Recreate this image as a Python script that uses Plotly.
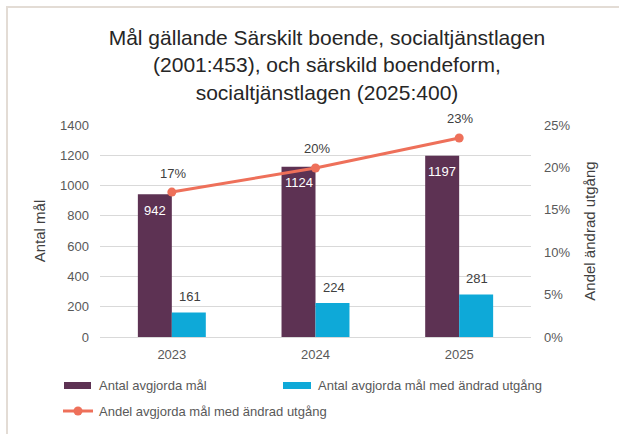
import plotly.graph_objects as go

years = ["2023", "2024", "2025"]
antal_mal = [942, 1124, 1197]
antal_andrad = [161, 224, 281]
andel_andrad = [0.1709, 0.1993, 0.2347]
andel_labels = ["17%", "20%", "23%"]

series_names = [
    "Antal avgjorda mål",
    "Antal avgjorda mål med ändrad utgång",
    "Andel avgjorda mål med ändrad utgång",
]

W, H = 619, 434
L, R, T, B = 100, 88, 125, 97
PW, PH = W - L - R, H - T - B

FONT = "Liberation Sans, Arial, sans-serif"
PURPLE = "#5D3253"
BLUE = "#0EA9D8"
CORAL = "#EE705A"
TXT = "#595959"
LBL = "#404040"

fig = go.Figure()
fig.add_trace(go.Bar(
    x=years, y=antal_mal, name=series_names[0],
    marker=dict(color=PURPLE, line=dict(width=0)),
))
fig.add_trace(go.Bar(
    x=years, y=antal_andrad, name=series_names[1],
    marker=dict(color=BLUE, line=dict(width=0)),
))
fig.add_trace(go.Scatter(
    x=years, y=andel_andrad, name=series_names[2],
    yaxis="y2", mode="lines+markers",
    line=dict(color=CORAL, width=3),
    marker=dict(color=CORAL, size=9),
    cliponaxis=False,
))


def px_x(p):
    return (p - L) / PW


def px_y(p):
    return (H - B - p) / PH


frame = "#E3DCD5"
shapes = [
    dict(type="line", xref="paper", yref="paper", x0=px_x(6), x1=px_x(W), y0=px_y(7), y1=px_y(7),
         line=dict(color=frame, width=2)),
    dict(type="line", xref="paper", yref="paper", x0=px_x(7), x1=px_x(7), y0=px_y(6), y1=px_y(H),
         line=dict(color=frame, width=2)),
    # custom legend swatches
    dict(type="rect", xref="paper", yref="paper", x0=px_x(64), x1=px_x(91), y0=px_y(382), y1=px_y(389),
         fillcolor=PURPLE, line=dict(width=0)),
    dict(type="rect", xref="paper", yref="paper", x0=px_x(283), x1=px_x(311), y0=px_y(382), y1=px_y(389),
         fillcolor=BLUE, line=dict(width=0)),
    dict(type="line", xref="paper", yref="paper", x0=px_x(63), x1=px_x(93), y0=px_y(411), y1=px_y(411),
         line=dict(color=CORAL, width=3)),
    dict(type="circle", xref="paper", yref="paper", x0=px_x(73.5), x1=px_x(82.5), y0=px_y(406.5), y1=px_y(415.5),
         fillcolor=CORAL, line=dict(width=0)),
]

annotations = [
    dict(text=series_names[0], xref="paper", yref="paper", x=px_x(97), y=px_y(385.5),
         xanchor="left", yanchor="middle", showarrow=False, font=dict(size=13, color=TXT, family=FONT)),
    dict(text=series_names[1], xref="paper", yref="paper", x=px_x(316), y=px_y(385.5),
         xanchor="left", yanchor="middle", showarrow=False, font=dict(size=13, color=TXT, family=FONT)),
    dict(text=series_names[2], xref="paper", yref="paper", x=px_x(97), y=px_y(411),
         xanchor="left", yanchor="middle", showarrow=False, font=dict(size=13, color=TXT, family=FONT)),
]

# data labels, anchored to the data through the axes (x = category index)
for i, v in enumerate(antal_mal):
    annotations.append(dict(text=str(v), x=i, y=v, xref="x", yref="y", showarrow=False,
                            xshift=-17, yshift=-16, xanchor="center", yanchor="middle",
                            font=dict(size=13, color="white", family=FONT)))
for i, v in enumerate(antal_andrad):
    annotations.append(dict(text=str(v), x=i, y=v, xref="x", yref="y", showarrow=False,
                            xshift=18, yshift=16, xanchor="center", yanchor="middle",
                            font=dict(size=13, color=LBL, family=FONT)))
for i, (v, t) in enumerate(zip(andel_andrad, andel_labels)):
    annotations.append(dict(text=t, x=i, y=v, xref="x", yref="y2", showarrow=False,
                            xshift=1, yshift=19, xanchor="center", yanchor="middle",
                            font=dict(size=13, color=LBL, family=FONT)))

fig.update_layout(
    width=W, height=H,
    margin=dict(l=L, r=R, t=T, b=B, autoexpand=False),
    paper_bgcolor="white", plot_bgcolor="white",
    font=dict(family=FONT, size=13, color=TXT),
    title=dict(
        text="Mål gällande Särskilt boende, socialtjänstlagen<br>(2001:453), och särskild boendeform,<br>socialtjänstlagen (2025:400)",
        x=327 / W, xanchor="center", xref="container",
        y=1 - 45 / H, yanchor="top", yref="container",
        font=dict(size=21, color="#262626", family=FONT),
        automargin=False,
    ),
    barmode="group", bargap=0.527, bargroupgap=0,
    showlegend=False,
    xaxis=dict(
        type="category", categoryorder="array", categoryarray=years,
        range=[-0.5, len(years) - 0.5],
        showgrid=False, showline=False, ticks="", automargin=False,
        tickfont=dict(size=13, color=TXT), ticklabelstandoff=8,
    ),
    yaxis=dict(
        range=[0, 1400], dtick=200, showgrid=True, gridcolor="#D9D9D9", gridwidth=1,
        zeroline=True, zerolinecolor="#D9D9D9", zerolinewidth=1, automargin=False,
        showline=False, ticks="", tickfont=dict(size=13, color=TXT),
        ticklabelstandoff=10,
        title=dict(text="Antal mål", font=dict(size=15, color=LBL), standoff=10),
    ),
    yaxis2=dict(
        range=[0, 0.25], dtick=0.05, tickformat=".0%", overlaying="y", side="right",
        showgrid=False, zeroline=False, showline=False, ticks="", automargin=False,
        tickfont=dict(size=13, color=TXT), ticklabelstandoff=12,
        title=dict(text="Andel ändrad utgång", font=dict(size=15, color=LBL), standoff=15),
    ),
    shapes=shapes,
    annotations=annotations,
)

fig.write_html("out.html", config={"displayModeBar": False},
               post_script="document.body.style.margin='0';document.body.style.padding='0';")
